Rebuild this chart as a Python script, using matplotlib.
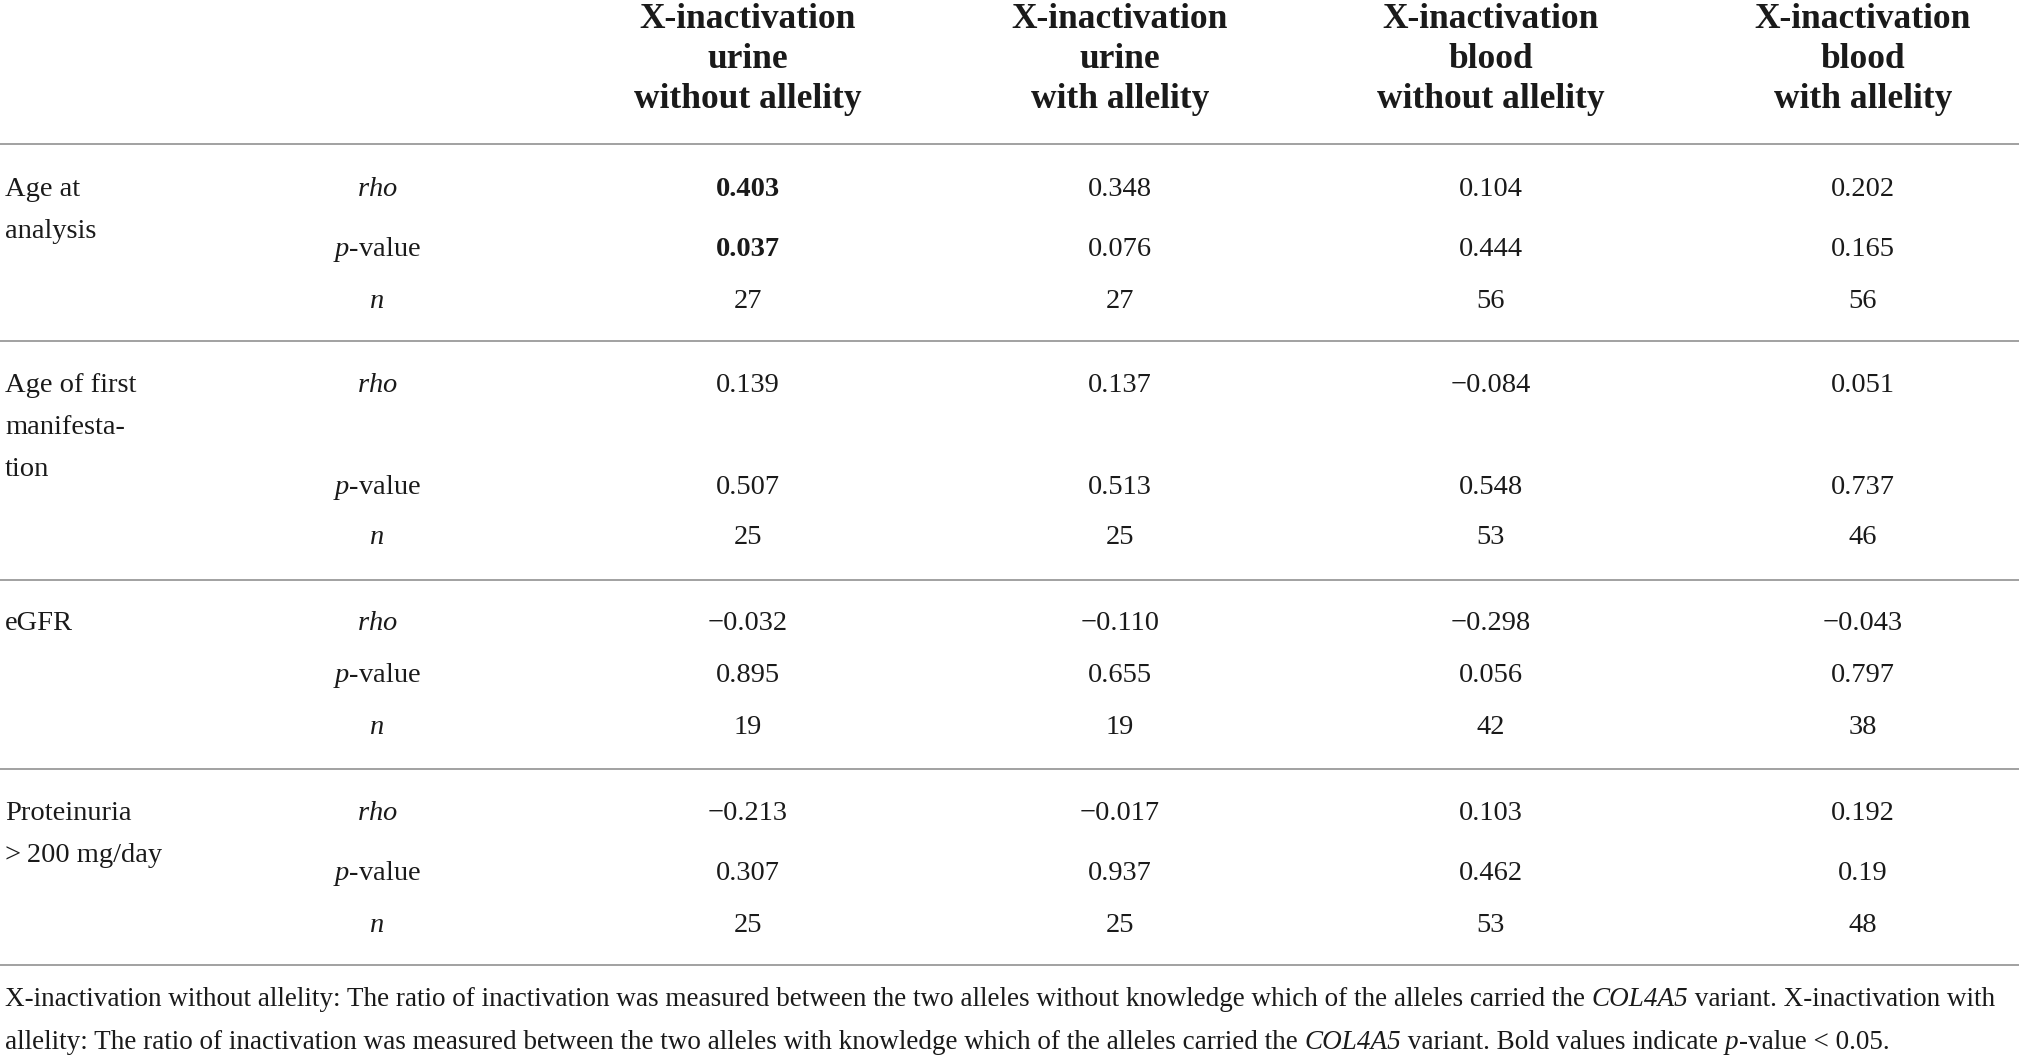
"""
Spearman correlation table: X-inactivation vs clinical parameters
"""
import matplotlib
matplotlib.use("Agg")
import matplotlib.pyplot as plt

plt.rcParams["font.family"] = ["Liberation Serif", "DejaVu Serif"]
plt.rcParams["mathtext.fontset"] = "custom"
plt.rcParams["mathtext.rm"] = "Liberation Serif"
plt.rcParams["mathtext.it"] = "Liberation Serif:italic"
plt.rcParams["mathtext.bf"] = "Liberation Serif:bold"

# --- table content ---
col_headers = [
    ["X-inactivation", "urine", "without allelity"],
    ["X-inactivation", "urine", "with allelity"],
    ["X-inactivation", "blood", "without allelity"],
    ["X-inactivation", "blood", "with allelity"],
]
row_groups = [
    ["Age at", "analysis"],
    ["Age of first", "manifesta-", "tion"],
    ["eGFR"],
    ["Proteinuria", ">\u2009200 mg/day"],
]
stat_labels = ["$rho$", "$p$-value", "$n$"]

rho_values = [
    ["0.403", "0.348", "0.104", "0.202"],
    ["0.139", "0.137", "\u22120.084", "0.051"],
    ["\u22120.032", "\u22120.110", "\u22120.298", "\u22120.043"],
    ["\u22120.213", "\u22120.017", "0.103", "0.192"],
]
p_values = [
    ["0.037", "0.076", "0.444", "0.165"],
    ["0.507", "0.513", "0.548", "0.737"],
    ["0.895", "0.655", "0.056", "0.797"],
    ["0.307", "0.937", "0.462", "0.19"],
]
n_values = [
    ["27", "27", "56", "56"],
    ["25", "25", "53", "46"],
    ["19", "19", "42", "38"],
    ["25", "25", "53", "48"],
]
# footnote pieces: (text, italic?)
footnote = [
    [("X-inactivation without allelity: The ratio of inactivation was measured between the two alleles "
      "without knowledge which of the alleles carried the ", False),
     ("COL4A5", True),
     (" variant. X-inactivation with", False)],
    [("allelity: The ratio of inactivation was measured between the two alleles with knowledge which of "
      "the alleles carried the ", False),
     ("COL4A5", True),
     (" variant. Bold values indicate ", False),
     ("p", True),
     ("-value < 0.05.", False)],
]

# --- layout (pixel coordinates) ---
W, H = 2019, 1056
col_x = [748, 1120, 1491, 1863]
stat_x = 377
label_x = 5
header_y = [20, 60, 100]
rules_y = [144, 341, 580, 769, 965]
# y of rho, p-value, n rows per group
group_rows = [
    [189, 249, 301],
    [386, 487, 538],
    [623, 676, 728],
    [813, 873, 925],
]
label_step = 42
footnote_y = [998, 1041]

BODY = 20.5
HEAD = 25.5
FOOT = 19.5
TEXT_COLOR = "#1a1a1a"
RULE_COLOR = "#9a9a9a"


def draw_runs(fig, ax, x, y, runs, size):
    """Draw a line of mixed upright/italic text pieces one after another."""
    renderer = fig.canvas.get_renderer()
    inv = ax.transData.inverted()
    for text, italic in runs:
        t = ax.text(x, y, text, ha="left", va="baseline", fontsize=size,
                    color=TEXT_COLOR, style="italic" if italic else "normal")
        bb = t.get_window_extent(renderer=renderer)
        x = inv.transform((bb.x1, bb.y0))[0]


def main():
    fig = plt.figure(figsize=(W / 100, H / 100), dpi=100)
    ax = fig.add_axes([0, 0, 1, 1])
    ax.set_xlim(0, W)
    ax.set_ylim(H, 0)
    ax.axis("off")

    # column headers
    for cx, lines in zip(col_x, col_headers):
        for hy, line in zip(header_y, lines):
            ax.text(cx, hy, line, ha="center", va="center",
                    fontsize=HEAD, fontweight="bold", color=TEXT_COLOR)

    # horizontal rules
    for ry in rules_y:
        ax.plot([0, W], [ry, ry], color=RULE_COLOR, lw=1.3,
                solid_capstyle="butt")

    # body
    for g, rows in enumerate(group_rows):
        for i, line in enumerate(row_groups[g]):
            ax.text(label_x, rows[0] + i * label_step, line, ha="left",
                    va="center", fontsize=BODY, color=TEXT_COLOR)
        vals = [rho_values[g], p_values[g], n_values[g]]
        for r, ry in enumerate(rows):
            ax.text(stat_x, ry, stat_labels[r], ha="center", va="center",
                    fontsize=BODY, color=TEXT_COLOR)
            for c, cx in enumerate(col_x):
                bold = g == 0 and c == 0 and r < 2
                ax.text(cx, ry, vals[r][c], ha="center", va="center",
                        fontsize=BODY, color=TEXT_COLOR,
                        fontweight="bold" if bold else "normal")

    # footnote (baseline ~ 8 px below line centre)
    for fy, runs in zip(footnote_y, footnote):
        draw_runs(fig, ax, label_x, fy + 8, runs, FOOT)

    fig.savefig("out.png", dpi=100)
    plt.close(fig)


if __name__ == "__main__":
    main()
